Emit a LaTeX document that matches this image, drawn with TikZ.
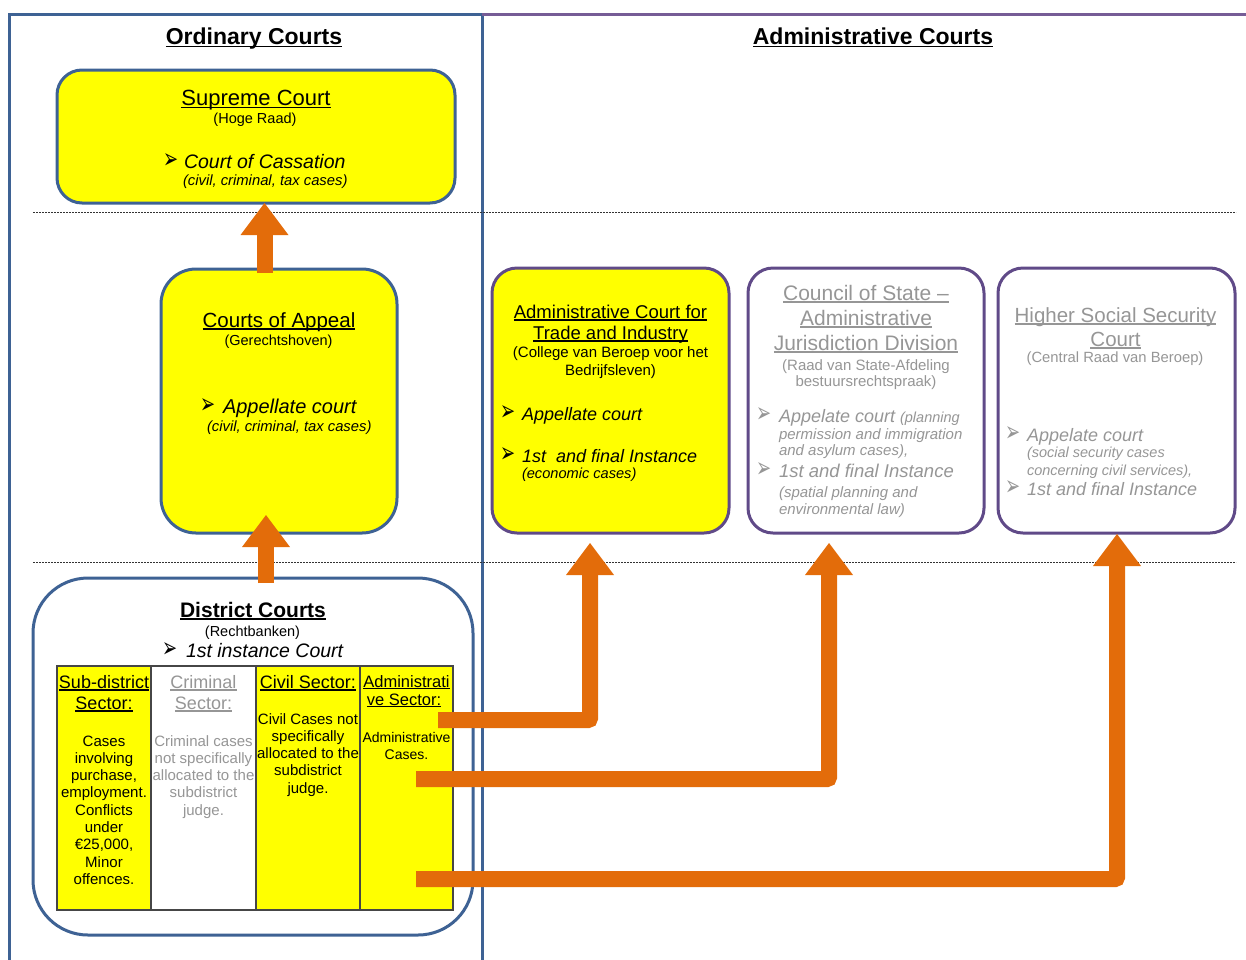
\documentclass[tikz,border=0pt]{standalone}
\usepackage{fontspec}
\usepackage{graphicx}
\setmainfont{Liberation Sans}
\newfontfamily\dejavu{DejaVu Sans}
\usetikzlibrary{arrows.meta}

\definecolor{frameblue}{RGB}{62,98,148}
\definecolor{framepurple}{RGB}{96,74,136}
\definecolor{topviolet}{RGB}{118,92,150}
\definecolor{courtyellow}{RGB}{255,255,0}
\definecolor{arroworange}{RGB}{227,108,10}
\definecolor{mutedgray}{RGB}{150,150,150}
\definecolor{cellline}{RGB}{70,70,70}

% font size in pt with matching leading
\newcommand\fsz[1]{\fontsize{#1pt}{#1pt}\selectfont}
% underline that sits just below the baseline
\newcommand\ulin[1]{\leavevmode\setbox0=\hbox{#1}\rlap{\vrule height -0.07em depth 0.15em width \wd0}\box0}
\newcommand\bulletmark{\scalebox{0.72}[1.12]{\dejavu\fsz{25}➢}}

\tikzset{
  txt/.style={anchor=base, inner sep=0pt, outer sep=0pt},
  ltxt/.style={anchor=base west, inner sep=0pt, outer sep=0pt},
  ordbox/.style={draw=frameblue, line width=3pt, fill=courtyellow, inner sep=0pt, outer sep=0pt},
  admbox/.style={draw=framepurple, line width=3pt, inner sep=0pt, outer sep=0pt},
  cell/.style={draw=cellline, line width=1.5pt, inner sep=0pt, outer sep=0pt},
  divider/.style={line width=0.9pt, dash pattern=on 2pt off 1pt, black!80},
  blockarrow/.style={draw=arroworange, line width=16pt, line cap=butt, rounded corners=2pt,
    -{Triangle[width=48pt,length=32pt,line width=0pt]}},
}

\begin{document}
\begin{tikzpicture}[x=1pt,y=-1pt]
\useasboundingbox (0,0) rectangle (1246,959);

% ---------- panels ----------
\draw[frameblue, line width=3pt] (9,975) -- (9,14) -- (482,14) -- (482,975);
\draw[topviolet, line width=3pt] (482,14) -- (1260,14);
\node[txt, font=\fsz{23}\bfseries] (ordtitle) at (254,44) {\ulin{Ordinary Courts}};
\node[txt, font=\fsz{23}\bfseries] (admtitle) at (873,44) {\ulin{Administrative Courts}};

% level separators
\draw[divider] (33,212) -- (1236,212);
\draw[divider] (33,562) -- (1236,562);

% ---------- Supreme Court ----------
\node[ordbox, rounded corners=25pt, minimum width=398pt, minimum height=133pt] (supreme) at (256,136.5) {};
\node[txt, font=\fsz{22}] (supT) at (256,105) {\ulin{Supreme Court}};
\node[txt, font=\fsz{14.5}] (supS) at (255,123) {(Hoge Raad)};
\node[ltxt] (supB) at (163,168) {\bulletmark};
\node[ltxt, font=\fsz{19.5}\itshape] (supL) at (184,168) {Court of Cassation};
\node[ltxt, font=\fsz{14.8}\itshape] (supN) at (183,185) {(civil, criminal, tax cases)};

% ---------- Courts of Appeal ----------
\node[ordbox, rounded corners=35pt, minimum width=236pt, minimum height=264pt] (appeal) at (279,401) {};
\node[txt, font=\fsz{20.5}] (appT) at (279,327) {\ulin{Courts of Appeal}};
\node[txt, font=\fsz{14.5}] (appS) at (278.5,345) {(Gerechtshoven)};
\node[ltxt] (appB) at (200,413) {\bulletmark};
\node[ltxt, font=\fsz{20}\itshape] (appL) at (223,413) {Appellate court};
\node[ltxt, font=\fsz{14.8}\itshape] (appN) at (207,431) {(civil, criminal, tax cases)};

% ---------- Administrative Court for Trade and Industry ----------
\node[admbox, fill=courtyellow, rounded corners=25pt, minimum width=237pt, minimum height=265pt] (trade) at (610.5,400.5) {};
\node[txt, font=\fsz{18.5}] (traT1) at (610.5,318) {\ulin{Administrative Court for}};
\node[txt, font=\fsz{18.5}] (traT2) at (610.5,339) {\ulin{Trade and Industry}};
\node[txt, font=\fsz{15}] (traS1) at (610.5,357) {(College van Beroep voor het};
\node[txt, font=\fsz{15}] (traS2) at (610.5,375) {Bedrijfsleven)};
\node[ltxt] (traB1) at (500,420) {\bulletmark};
\node[ltxt, font=\fsz{18}\itshape] (traL1) at (522,420) {Appellate court};
\node[ltxt] (traB2) at (500,462) {\bulletmark};
\node[ltxt, font=\fsz{18}\itshape] (traL2) at (522,462) {1st\ \ and final Instance};
\node[ltxt, font=\fsz{14.6}\itshape] (traN2) at (522,478) {(economic cases)};

% ---------- Council of State ----------
\node[admbox, fill=white, rounded corners=25pt, minimum width=236pt, minimum height=265pt] (council) at (866,400.5) {};
\begin{scope}[mutedgray]
\node[txt, font=\fsz{21}] (couT1) at (866,300) {\ulin{Council of State –}};
\node[txt, font=\fsz{21}] (couT2) at (866,325) {\ulin{Administrative}};
\node[txt, font=\fsz{21}] (couT3) at (866,350) {\ulin{Jurisdiction Division}};
\node[txt, font=\fsz{15}] (couS1) at (866,370) {(Raad van State-Afdeling};
\node[txt, font=\fsz{15}] (couS2) at (866,386) {bestuursrechtspraak)};
\node[ltxt, text=mutedgray] (couB1) at (756,422) {\bulletmark};
\node[ltxt, font=\itshape] (couL1) at (779,422) {{\fsz{18}Appelate court }{\fsz{14.5}(planning}};
\node[ltxt, font=\fsz{15}\itshape] (couN1) at (779,439) {permission and immigration};
\node[ltxt, font=\fsz{15}\itshape] (couN2) at (779,455) {and asylum cases),};
\node[ltxt, text=mutedgray] (couB2) at (756,477) {\bulletmark};
\node[ltxt, font=\fsz{18.5}\itshape] (couL2) at (779,477) {1st and final Instance};
\node[ltxt, font=\fsz{15}\itshape] (couN3) at (779,497) {(spatial planning and};
\node[ltxt, font=\fsz{15}\itshape] (couN4) at (779,514) {environmental law)};
\end{scope}

% ---------- Higher Social Security Court ----------
\node[admbox, fill=white, rounded corners=25pt, minimum width=237pt, minimum height=265pt] (higher) at (1116.5,400.5) {};
\begin{scope}[mutedgray]
\node[txt, font=\fsz{20.5}] (higT1) at (1115.5,322) {\ulin{Higher Social Security}};
\node[txt, font=\fsz{20.5}] (higT2) at (1115.5,346) {\ulin{Court}};
\node[txt, font=\fsz{14.8}] (higS) at (1115,362) {(Central Raad van Beroep)};
\node[ltxt, text=mutedgray] (higB1) at (1005,441) {\bulletmark};
\node[ltxt, font=\fsz{18}\itshape] (higL1) at (1027,441) {Appelate court};
\node[ltxt, font=\fsz{14.5}\itshape] (higN1) at (1027,457) {(social security cases};
\node[ltxt, font=\fsz{14.5}\itshape] (higN2) at (1027,475) {concerning civil services),};
\node[ltxt, text=mutedgray] (higB2) at (1005,495) {\bulletmark};
\node[ltxt, font=\fsz{18}\itshape] (higL2) at (1027,495) {1st and final Instance};
\end{scope}

% ---------- District Courts ----------
\node[draw=frameblue, line width=3pt, fill=white, rounded corners=55pt, minimum width=440pt, minimum height=357pt, inner sep=0pt, outer sep=0pt] (district) at (253,756.5) {};
\node[txt, font=\fsz{21}\bfseries] (disT) at (253,617) {\ulin{District Courts}};
\node[txt, font=\fsz{14.5}] (disS) at (252.5,636) {(Rechtbanken)};
\node[ltxt] (disB) at (162,657) {\bulletmark};
\node[ltxt, font=\fsz{19.5}\itshape] (disL) at (186,657) {1st instance Court};

% sector table
\node[cell, fill=courtyellow, minimum width=94pt, minimum height=244pt] (subsec) at (104,788) {};
\node[cell, fill=white, minimum width=105pt, minimum height=244pt] (crimsec) at (203.5,788) {};
\node[cell, fill=courtyellow, minimum width=104pt, minimum height=244pt] (civsec) at (308,788) {};
\node[cell, fill=courtyellow, minimum width=93pt, minimum height=244pt] (admsec) at (406.5,788) {};

\node[txt, font=\fsz{18}] (subH1) at (104,688) {\ulin{Sub-district}};
\node[txt, font=\fsz{18}] (subH2) at (104,709) {\ulin{Sector:}};
\foreach \line [count=\i from 0] in {Cases,involving,{purchase,},employment.,Conflicts,under,{€25,000,},Minor,offences.}
  \node[txt, font=\fsz{15}] (subL\i) at (104,746+17.3*\i) {\line};

\node[txt, font=\fsz{18}, text=mutedgray] (crimH1) at (203.5,688) {\ulin{Criminal}};
\node[txt, font=\fsz{18}, text=mutedgray] (crimH2) at (203.5,709) {\ulin{Sector:}};
\foreach \line [count=\i from 0] in {Criminal cases,not specifically,allocated to the,subdistrict,judge.}
  \node[txt, font=\fsz{15}, text=mutedgray] (crimL\i) at (203.5,746+17.3*\i) {\line};

\node[txt, font=\fsz{18}] (civH) at (308,688) {\ulin{Civil Sector:}};
\foreach \line [count=\i from 0] in {Civil Cases not,specifically,allocated to the,subdistrict,judge.}
  \node[txt, font=\fsz{15}] (civL\i) at (308,724+17.3*\i) {\line};

\node[txt, font=\fsz{16.5}] (admH1) at (406.5,687) {\ulin{Administrati}};
\node[txt, font=\fsz{16.5}] (admH2) at (404,705) {\ulin{ve Sector:}};
\node[txt, font=\fsz{14}] (admL1) at (406.5,742) {Administrative};
\node[txt, font=\fsz{14}] (admL2) at (406.5,759) {Cases.};

% ---------- appeal routes ----------
\coordinate (upA) at (264.5,273);
\coordinate (upB) at (266,583);
\coordinate (toTrade) at (438,720);
\coordinate (toCouncil) at (416,779);
\coordinate (toHigher) at (416,879);

\draw[blockarrow] (upA) -- (upA |- supreme.south);
\draw[blockarrow] (upB) -- ([yshift=18pt]upB |- appeal.south);
\draw[blockarrow] (toTrade) -| ([xshift=-20.5pt,yshift=-10pt]trade.south);
\draw[blockarrow] (toCouncil) -| ([xshift=-37pt,yshift=-10pt]council.south);
\draw[blockarrow] (toHigher) -| ([xshift=0.5pt,yshift=-1pt]higher.south);
\end{tikzpicture}
\end{document}
